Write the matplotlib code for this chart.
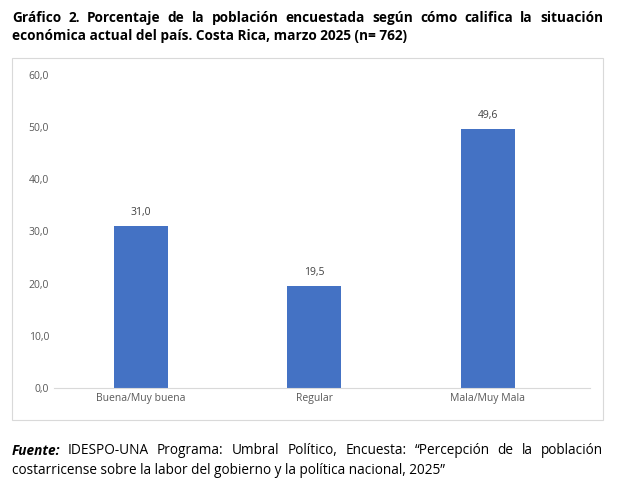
import matplotlib.pyplot as plt
from matplotlib.patches import Rectangle

plt.rcParams['font.family'] = ['Open Sans', 'DejaVu Sans']

categorias = ['Buena/Muy buena', 'Regular', 'Mala/Muy Mala']
porcentajes = [31.0, 19.5, 49.6]

fig = plt.figure(figsize=(6.27, 4.95), dpi=100)
fig.patches.append(Rectangle((12 / 627, 1 - 420 / 495), 591 / 627, 362 / 495,
                             transform=fig.transFigure, fill=False,
                             edgecolor='#d9d9d9', linewidth=0.8))

ax = fig.add_axes([54 / 627, 1 - 388 / 495, 536 / 627, 313 / 495])
x = range(len(categorias))
ax.bar(x, porcentajes, width=0.31, color='#4472C4')
for i, v in zip(x, porcentajes):
    ax.text(i, v + 1.5, f'{v:.1f}'.replace('.', ','),
            ha='center', va='bottom', fontsize=7.5, color='#404040')
ax.set_xlim(-0.5, 2.59)
ax.set_ylim(0, 60)
ax.set_yticks(range(0, 61, 10))
ax.set_yticklabels([f'{t},0' for t in range(0, 61, 10)])
ax.set_xticks(list(x))
ax.set_xticklabels(categorias)
ax.tick_params(labelsize=7.5, colors='#595959', length=0)
for s in ['top', 'right', 'left']:
    ax.spines[s].set_visible(False)
ax.spines['bottom'].set_color('#d9d9d9')


def justified(y, words, size, weight='normal', style='normal', x0=12, x1=603):
    # place words spread across the line width
    objs = [fig.text(0, y, w, fontsize=size, fontweight=weight, fontstyle=style,
                     va='center') for w in words]
    fig.canvas.draw()
    widths = [o.get_window_extent().width for o in objs]
    gap = (x1 - x0 - sum(widths)) / (len(words) - 1)
    pos = x0
    for o, w in zip(objs, widths):
        o.set_x(pos / 627)
        pos += w + gap
    return objs


justified(1 - 18 / 495, 'Gráfico 2. Porcentaje de la población encuestada según cómo califica la situación'.split(),
          9.8, weight='bold')
fig.text(12 / 627, 1 - 36 / 495,
         'económica actual del país. Costa Rica, marzo 2025 (n= 762)',
         fontsize=9.8, fontweight='bold', va='center')

objs = justified(1 - 451 / 495, ['Fuente:'] + 'IDESPO-UNA Programa: Umbral Político, Encuesta: “Percepción de la población'.split(),
                 9.8)
objs[0].set_fontweight('bold')
objs[0].set_fontstyle('italic')
fig.text(12 / 627, 1 - 470 / 495,
         'costarricense sobre la labor del gobierno y la política nacional, 2025”',
         fontsize=9.8, va='center')

fig.savefig('out.png', dpi=100, facecolor='white')
